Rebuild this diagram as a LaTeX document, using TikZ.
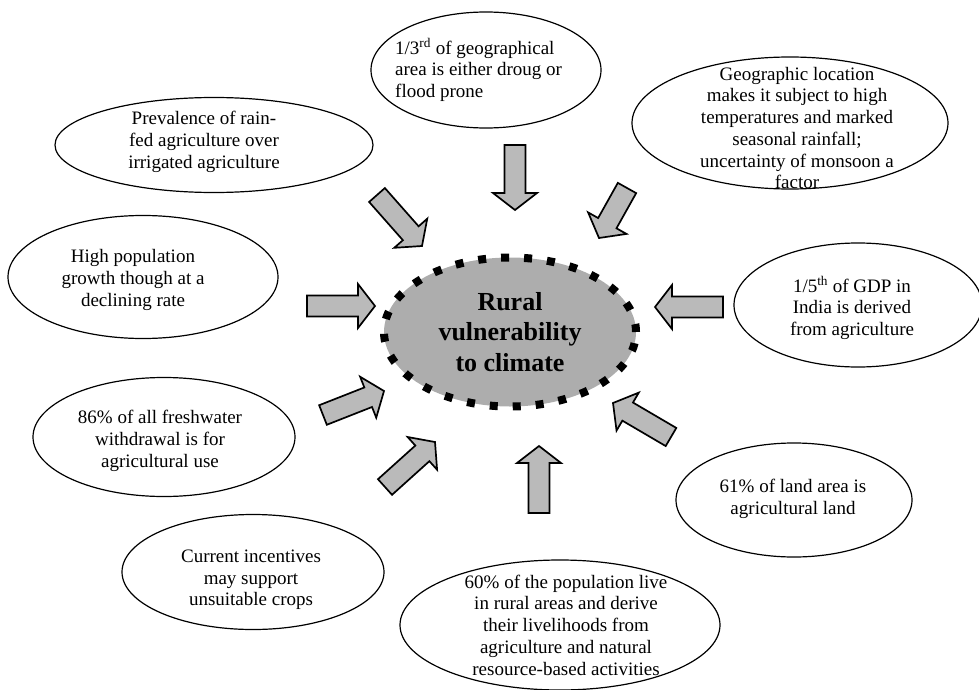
\documentclass[tikz,border=0pt]{standalone}
\usepackage{fontspec}
\setmainfont{Liberation Serif}
\usetikzlibrary{shapes.geometric, calc}

% block arrow from a named tail to a named tip
\newcommand{\blockarrow}[2]{%
  \coordinate (#1hb) at ($(#2)!17pt!(#1)$);
  \draw[fatarrow] ($(#1)!10.5pt!90:(#2)$) -- ($(#1hb)!10.5pt!-90:(#1)$)
    -- ($(#1hb)!22pt!-90:(#1)$) -- (#2) -- ($(#1hb)!22pt!90:(#1)$)
    -- ($(#1hb)!10.5pt!90:(#1)$) -- ($(#1)!10.5pt!-90:(#2)$) -- cycle;}

\begin{document}
\begin{tikzpicture}[x=1pt, y=-1pt,
  bubble/.style={ellipse, draw, line width=1.2pt, fill=white, inner sep=0pt},
  txt/.style={font=\fontsize{19}{21.7}\selectfont, align=center, inner sep=0pt},
  core/.style={ellipse, draw, fill=black!32, line width=8pt, dash pattern=on 8pt off 15pt,
    inner sep=0pt, minimum width=252pt, minimum height=149pt, align=center,
    font=\fontsize{26}{30.5}\selectfont\bfseries},
  fatarrow/.style={draw, fill=black!27, line width=1.7pt, line join=miter}]
\useasboundingbox (0,0) rectangle (979,690);

% centre
\node[core] (rural) at (510,332) {Rural\\vulnerability\\to climate};

% surrounding factors
\node[bubble, minimum width=230pt, minimum height=116pt] (drought) at (486,70) {};
\node[txt, align=left, anchor=west] (droughtT) at (395,70) {1/3\textsuperscript{rd} of geographical\\area is either droug or\\flood prone};

\node[bubble, minimum width=316pt, minimum height=132pt] (geo) at (790,123) {};
\node[txt] (geoT) at (797,128) {Geographic location\\makes it subject to high\\temperatures and marked\\seasonal rainfall;\\uncertainty of monsoon a\\factor};

\node[bubble, minimum width=318pt, minimum height=95pt] (rain) at (214,145) {};
\node[txt] (rainT) at (204,142) {Prevalence of rain-\\fed agriculture over\\irrigated agriculture};

\node[bubble, minimum width=270pt, minimum height=123pt] (pop) at (143,277) {};
\node[txt] (popT) at (133,280) {High population\\growth though at a\\declining rate};

\node[bubble, minimum width=248pt, minimum height=124pt] (gdp) at (858,305) {};
\node[txt] (gdpT) at (852,308) {1/5\textsuperscript{th} of GDP in\\India is derived\\from agriculture};

\node[bubble, minimum width=262pt, minimum height=119pt] (water) at (164,437) {};
\node[txt] (waterT) at (160,441) {86\% of all freshwater\\withdrawal is for\\agricultural use};

\node[bubble, minimum width=236pt, minimum height=114pt] (land) at (794,500) {};
\node[txt] (landT) at (793,499) {61\% of land area is\\agricultural land};

\node[bubble, minimum width=262pt, minimum height=115pt] (crops) at (253,572) {};
\node[txt] (cropsT) at (251,580) {Current incentives\\may support\\unsuitable crops};

\node[bubble, minimum width=320pt, minimum height=130pt] (liveli) at (560,625) {};
\node[txt] (liveliT) at (566,625) {60\% of the population live\\in rural areas and derive\\their livelihoods from\\agriculture and natural\\resource-based activities};

% arrows towards the centre
\foreach \n/\sx/\sy/\ex/\ey in {1/515/145/515/210, 2/377/195/422/246, 3/627/188/599/238,
    4/307/306/375/306, 5/723/307/655/307, 6/323/415/384/391,
    7/385/487/435/442, 8/539/513/539/446, 9/671/437/613/403}{
  \coordinate (s\n) at (\sx,\sy);
  \coordinate (e\n) at (\ex,\ey);
  \blockarrow{s\n}{e\n}
}
\end{tikzpicture}
\end{document}
